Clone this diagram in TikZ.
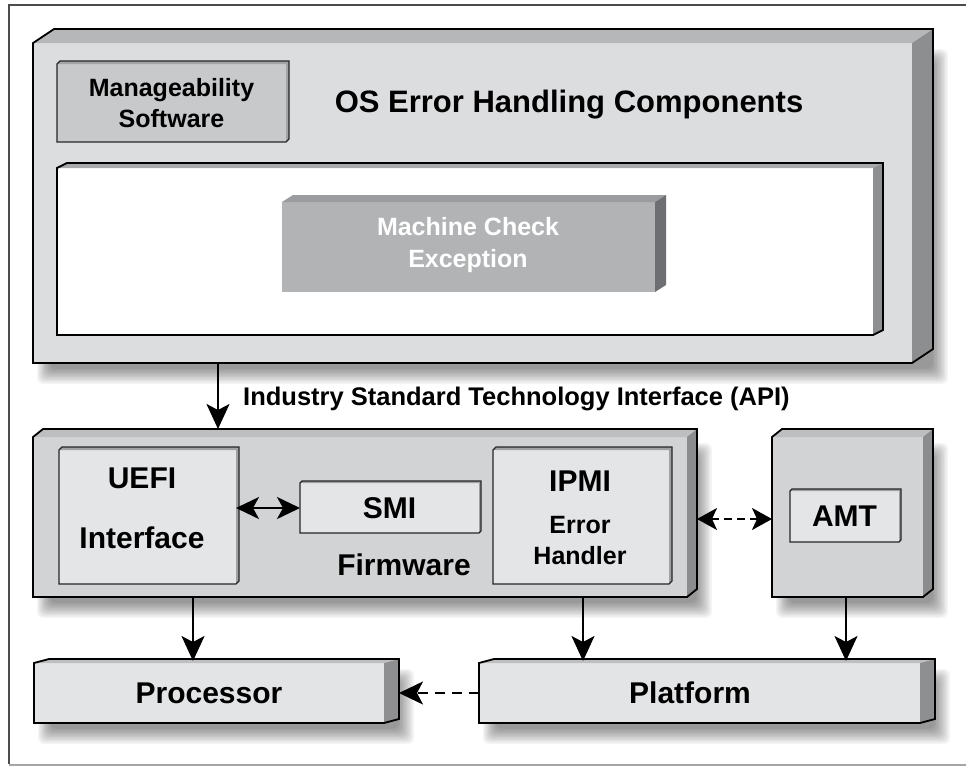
\documentclass[tikz,border=0pt]{standalone}
\usepackage{fontspec}
\setmainfont{Liberation Sans}
\usetikzlibrary{calc,arrows.meta}
\pgfdeclarelayer{paper}
\pgfdeclarelayer{bg}
\pgfsetlayers{paper,bg,main}
\definecolor{osfront}{HTML}{DCDDDF}
\definecolor{ostop}{HTML}{B6B7B9}
\definecolor{osside}{HTML}{8D8E90}
\definecolor{mgfill}{HTML}{C8C9CB}
\definecolor{mgedge}{HTML}{A3A4A6}
\definecolor{wtop}{HTML}{A9AAAC}
\definecolor{wside}{HTML}{8E8F91}
\definecolor{mcfront}{HTML}{B1B3B5}
\definecolor{mctop}{HTML}{9B9C9F}
\definecolor{mcside}{HTML}{6E6F72}
\definecolor{fwfront}{HTML}{D2D3D5}
\definecolor{fwtop}{HTML}{BDBEC0}
\definecolor{fwside}{HTML}{8B8C8E}
\definecolor{infill}{HTML}{E4E5E7}
\definecolor{inedge}{HTML}{A0A1A3}
\definecolor{pfront}{HTML}{E3E4E6}
\definecolor{ptop}{HTML}{BEBFC1}
\definecolor{pside}{HTML}{8E8F91}
% #1 name, #2 dx, #3 dy, #4 top colour, #5 side colour, #6 outline style
\newcommand\tdfaces[6]{%
  \fill[#4] (#1.north west) -- ++(#2,-#3) -- ([shift={(#2,-#3)}]#1.north east) -- (#1.north east) -- cycle;
  \fill[#5] (#1.north east) -- ([shift={(#2,-#3)}]#1.north east) -- ([shift={(#2,-#3)}]#1.south east) -- (#1.south east) -- cycle;
  \draw[#6] (#1.south west) -- (#1.north west) -- ++(#2,-#3) -- ([shift={(#2,-#3)}]#1.north east) -- ([shift={(#2,-#3)}]#1.south east) -- (#1.south east) -- cycle;
}
% soft shadow: #1 name, #2 dx
\newcommand\tdshadow[2]{%
  \begin{pgfonlayer}{bg}
  \foreach \i in {0,...,11} {
    \fill[black,opacity=0.04,rounded corners=6pt]
      ([shift={(4+1.2*\i,6+1.2*\i)}]#1.north west) rectangle ([shift={(#2+15-1.4*\i,21-1.4*\i)}]#1.south east);
  }
  \end{pgfonlayer}
}
\tikzset{
  face/.style={inner sep=0pt,outer sep=0pt,draw=none,anchor=north west},
  bigtxt/.style={font=\fontsize{30}{36}\selectfont\bfseries,inner sep=0pt},
  midtxt/.style={font=\fontsize{25}{31}\selectfont\bfseries,inner sep=0pt,align=center},
  outl/.style={draw=black,line width=1.8pt,line join=miter},
  inl/.style={draw=black!85,line width=1.1pt},
  arr/.style={line width=2pt,-{Stealth[length=25pt,width=23pt,inset=6pt]}},
  darr/.style={line width=2pt,{Stealth[length=23pt,width=22pt,inset=6pt]}-{Stealth[length=23pt,width=22pt,inset=6pt]}},
  ddarr/.style={line width=2pt,dash pattern=on 8pt off 5pt,{Stealth[length=20pt,width=22pt,inset=5pt]}-{Stealth[length=20pt,width=22pt,inset=5pt]}},
  dsarr/.style={line width=2pt,dash pattern=on 10pt off 7pt,-{Stealth[length=24pt,width=23pt,inset=6pt]}},
}
\begin{document}
\begin{tikzpicture}[x=1pt,y=-1pt]
\useasboundingbox (0,0) rectangle (966,766);
\begin{pgfonlayer}{paper}
\fill[white] (0,0) rectangle (966,766);
\end{pgfonlayer}
% frame
\draw[black!70,line width=1.2pt] (9,764) -- (9,5) -- (966,5);
\draw[black!35,line width=1.2pt] (9,765) -- (966,765);

% OS box
\node[face,fill=osfront,minimum width=879,minimum height=320] (os) at (33,43) {};
\tdshadow{os}{21}
\tdfaces{os}{21}{14}{ostop}{osside}{outl}
% Manageability
\node[face,fill=mgfill,minimum width=229,minimum height=78] (mg) at (57,64) {};
\tdfaces{mg}{3}{3}{mgedge}{mgedge}{inl}
\node[midtxt] (mgt) at (mg.center) {Manageability\\Software};
\node[font=\fontsize{31}{36}\selectfont\bfseries,inner sep=0pt] (title) at (569,105) {OS Error Handling Components};
% white inner
\node[face,fill=white,minimum width=816,minimum height=167] (wb) at (57,168) {};
\tdfaces{wb}{10}{5}{wtop}{wside}{outl}
% MCE
\node[face,fill=mcfront,minimum width=373,minimum height=90] (mce) at (282,202) {};
\tdfaces{mce}{11}{7}{mctop}{mcside}{draw=none}
\node[midtxt,text=white,font=\fontsize{25}{32}\selectfont\bfseries] (mcet) at (468,245) {Machine Check\\Exception};

% Firmware
\node[face,fill=fwfront,minimum width=654,minimum height=160] (fw) at (33,437) {};
\tdshadow{fw}{10}
\tdfaces{fw}{10}{8}{fwtop}{fwside}{outl}
\node[face,fill=infill,minimum width=177,minimum height=134] (uefi) at (59,450) {};
\tdfaces{uefi}{3}{3}{inedge}{inedge}{inl}
\node[bigtxt] (uefit1) at (142,478) {UEFI};
\node[bigtxt] (uefit2) at (142,538) {Interface};
\node[face,fill=infill,minimum width=179,minimum height=50] (smi) at (300,483) {};
\tdfaces{smi}{2}{2}{inedge}{inedge}{inl}
\node[bigtxt] (smit) at (smi.center) {SMI};
\node[bigtxt] (fwt) at (404,565) {Firmware};
\node[face,fill=infill,minimum width=176,minimum height=134] (ipmi) at (493,450) {};
\tdfaces{ipmi}{3}{3}{inedge}{inedge}{inl}
\node[bigtxt] (ipmit) at (580,481) {IPMI};
\node[midtxt] (ipmit2) at (580,525) {Error};
\node[midtxt] (ipmit3) at (580,556) {Handler};

% AMT
\node[face,fill=fwfront,minimum width=151,minimum height=160] (amt) at (772,437) {};
\tdshadow{amt}{10}
\tdfaces{amt}{10}{8}{fwtop}{fwside}{outl}
\node[face,fill=infill,minimum width=109,minimum height=51] (amti) at (790,491) {};
\tdfaces{amti}{2}{2}{inedge}{inedge}{inl}
\node[bigtxt] (amtt) at (amti.center) {AMT};

% Processor / Platform
\node[face,fill=pfront,minimum width=350,minimum height=60] (proc) at (34,663) {};
\tdshadow{proc}{15}
\tdfaces{proc}{15}{4}{ptop}{pside}{outl}
\node[bigtxt] (proct) at (proc.center) {Processor};
\node[face,fill=pfront,minimum width=441,minimum height=60] (plat) at (479,663) {};
\tdshadow{plat}{15}
\tdfaces{plat}{15}{4}{ptop}{pside}{outl}
\node[bigtxt] (platt) at (690,693) {Platform};

% connectors
\draw[arr] ([xshift=185pt]os.south west) -- ([xshift=185pt,yshift=8pt]fw.north west);
\node[font=\fontsize{25.5}{30}\selectfont\bfseries,inner sep=0pt,anchor=west] (api) at (243,399) {Industry Standard Technology Interface (API)};
\draw[darr] (uefi.east |- smi.west) -- (smi.west);
\draw[ddarr] ([xshift=10pt]fw.east |- 0,519) -- (amt.west |- 0,519);
\draw[arr] ([xshift=160pt]fw.south west) -- ([xshift=159pt,yshift=2pt]proc.north west);
\draw[arr] ([xshift=104pt]plat.north west |- fw.south) -- ([xshift=104pt,yshift=2pt]plat.north west);
\draw[arr] ([xshift=74pt]amt.south west) -- ([xshift=367pt,yshift=2pt]plat.north west);
\draw[dsarr] (plat.west |- 0,693) -- ([xshift=15pt]proc.east |- 0,693);
\end{tikzpicture}
\end{document}
